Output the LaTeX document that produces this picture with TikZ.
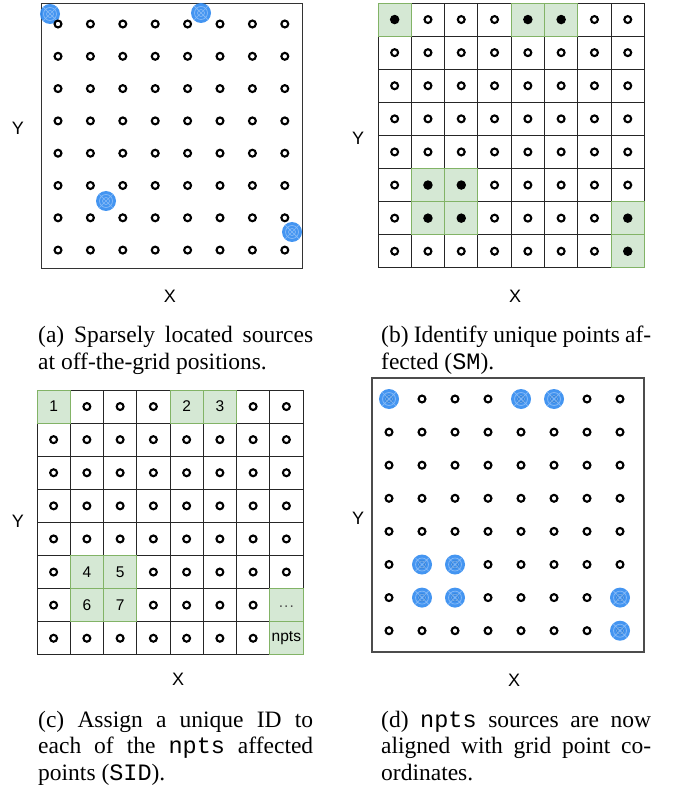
\documentclass[tikz,border=0pt]{standalone}
\usepackage{fontspec}
\setmainfont{Liberation Serif}
\setsansfont{Liberation Sans}
\setmonofont{Liberation Mono}
\definecolor{srcblue}{RGB}{52,140,240}
\definecolor{gfill}{RGB}{213,232,212}
\definecolor{gline}{RGB}{130,179,102}
\begin{document}
\begin{tikzpicture}[x=1pt,y=-1pt,
  hpt/.style={circle, draw=black, line width=2.1pt, minimum size=6.9pt, inner sep=0pt},
  fdot/.style={circle, fill=black, minimum size=9.5pt, inner sep=0pt},
  axislab/.style={font=\sffamily\fontsize{18}{20}\selectfont, inner sep=0pt},
  cell/.style={draw=black!85, line width=0.9pt, minimum width=33.3pt, minimum height=33.1pt, inner sep=0pt},
  gcell/.style={cell, fill=gfill, draw=gline, font=\sffamily\fontsize{15.5}{17}\selectfont},
  frame/.style={draw=black!80, line width=1pt},
  src/.style={circle, fill=srcblue, fill opacity=0.92, minimum size=20pt, inner sep=0pt,
    path picture={
      \draw[white, opacity=0.35, line width=0.7pt]
        (path picture bounding box.center) circle (6.5pt)
        (path picture bounding box.center) circle (3.5pt)
        ([shift={(-7pt,-7pt)}]path picture bounding box.center) -- ([shift={(7pt,7pt)}]path picture bounding box.center)
        ([shift={(-7pt,7pt)}]path picture bounding box.center) -- ([shift={(7pt,-7pt)}]path picture bounding box.center);
    }},
  capstyle/.style={font=\fontsize{23.5}{26.5}\selectfont, align=justify, inner sep=0pt, anchor=north west}
]
\useasboundingbox (0,0) rectangle (673,791);

% ---------------- (a) ----------------
\draw[frame] (41,4) rectangle (302,268);
\node[src] (sa1) at (50,14) {};
\node[src] (sa2) at (201,13) {};
\node[src] (sa3) at (106,201) {};
\node[src] (sa4) at (292,232) {};
\foreach \i in {0,...,7}{
  \foreach \j in {0,...,7}{
    \node[hpt] (ap-\i-\j) at ({58+32.4*\i},{24+32.3*\j}) {};
  }
}
\node[axislab] (ay) at (18,128) {Y};
\node[axislab] (ax) at (170,296) {X};

% ---------------- (b) ----------------
\foreach \i in {0,...,7}{
  \foreach \j in {0,...,7}{
    \node[cell] (bc-\i-\j) at ({378+33.3*(\i+0.5)},{3+33.1*(\j+0.5)}) {};
    \node[hpt] (bp-\i-\j) at (bc-\i-\j) {};
  }
}
\foreach \i/\j in {0/0,4/0,5/0,1/5,2/5,1/6,2/6,7/6,7/7}{
  \node[gcell] (bg-\i-\j) at ({378+33.3*(\i+0.5)},{3+33.1*(\j+0.5)}) {};
  \node[fdot] (bd-\i-\j) at (bg-\i-\j) {};
}
\node[axislab] (by) at (358,138) {Y};
\node[axislab] (bx) at (515,296) {X};

% ---------------- (c) ----------------
\foreach \i in {0,...,7}{
  \foreach \j in {0,...,7}{
    \node[cell] (cc-\i-\j) at ({37+33.25*(\i+0.5)},{390+33.1*(\j+0.5)}) {};
    \node[hpt] (cp-\i-\j) at (cc-\i-\j) {};
  }
}
\foreach \i/\j/\t in {0/0/1,4/0/2,5/0/3,1/5/4,2/5/5,1/6/6,2/6/7}{
  \node[gcell] (cg-\i-\j) at ({37+33.25*(\i+0.5)},{390+33.1*(\j+0.5)}) {\t};
}
\node[gcell, text=black!70] (cg-7-6) at ({37+33.25*7.5},{390+33.1*6.5}) {\raisebox{-4pt}{.\kern1pt.\kern1pt.}};
\node[gcell] (cg-7-7) at ({37+33.25*7.5},{390+33.1*7.5}) {npts};
\node[axislab] (cy) at (18,521) {Y};
\node[axislab] (cx) at (178,679) {X};

% ---------------- (d) ----------------
\draw[frame, draw=black!70, line width=1.4pt] (372,378) rectangle (644,652);
\foreach \i in {0,...,7}{
  \foreach \j in {0,...,7}{
    \node[hpt] (dp-\i-\j) at ({389+33*\i},{399+33.1*\j}) {};
  }
}
\foreach \i/\j in {0/0,4/0,5/0,1/5,2/5,1/6,2/6,7/6,7/7}{
  \node[src] (ds-\i-\j) at (dp-\i-\j) {};
}
\node[axislab] (dy) at (358,518) {Y};
\node[axislab] (dx) at (514,680) {X};

% ---------------- captions ----------------
\node[capstyle, text width=275pt] (capa) at (38,326)
  {(a) Sparsely located sources\linebreak at off-the-grid positions.};
\node[capstyle, text width=270pt] (capb) at (381,326)
  {(b) Identify unique points af-\linebreak fected (\texttt{SM}).};
\node[capstyle, text width=275pt] (capc) at (38,710.5)
  {(c) Assign a unique ID to\linebreak each of the \texttt{npts} affected\linebreak points (\texttt{SID}).};
\node[capstyle, text width=270pt] (capd) at (381,710.5)
  {(d) \texttt{npts} sources are now\linebreak aligned with grid point co-\linebreak ordinates.};
\end{tikzpicture}
\end{document}
